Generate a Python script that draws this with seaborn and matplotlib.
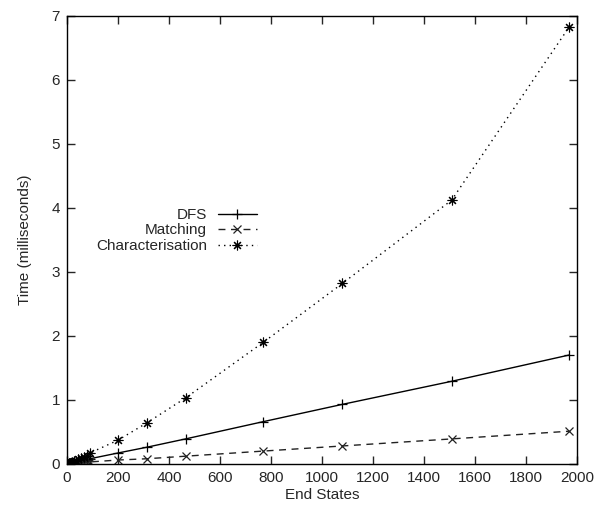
import pandas as pd
import matplotlib
matplotlib.use("Agg")
import matplotlib.pyplot as plt
import seaborn as sns

# data
end_states = [1, 3, 6, 10, 15, 20, 28, 36, 45, 55, 66, 78, 90,
              200, 313, 465, 770, 1080, 1508, 1968]
dfs = [0.0, 0.0, 0.01, 0.01, 0.01, 0.02, 0.02, 0.03, 0.03, 0.04, 0.05, 0.06, 0.08,
       0.17, 0.26, 0.39, 0.66, 0.93, 1.29, 1.70]
matching = [0.0, 0.0, 0.0, 0.0, 0.0, 0.01, 0.01, 0.01, 0.01, 0.01, 0.02, 0.02, 0.03,
            0.06, 0.08, 0.12, 0.20, 0.28, 0.39, 0.51]
characterisation = [0.0, 0.0, 0.01, 0.01, 0.02, 0.03, 0.04, 0.05, 0.07, 0.09, 0.11, 0.13, 0.17,
                    0.37, 0.64, 1.03, 1.90, 2.82, 4.12, 6.82]

df = pd.DataFrame({"End States": end_states, "DFS": dfs, "Matching": matching,
                   "Characterisation": characterisation})

sns.set_style("ticks")
plt.rcParams["font.family"] = ["Liberation Sans", "DejaVu Sans"]

fig = plt.figure(figsize=(5.98, 5.12), dpi=100)
ax = fig.add_axes([0.112, 0.094, 0.853, 0.875])

sns.lineplot(data=df, x="End States", y="DFS", ax=ax, color="black", lw=1,
             marker="+", ms=7, mew=0.9, mec="black", label="DFS")
sns.lineplot(data=df, x="End States", y="Matching", ax=ax, color="#222222", lw=1,
             linestyle=(0, (5, 4)), marker="x", ms=5.5, mew=0.9, mec="#222222", label="Matching")
sns.lineplot(data=df, x="End States", y="Characterisation", ax=ax, color="black", lw=1,
             linestyle=(0, (1, 3)), marker=(8, 2, 0), ms=7, mew=0.8, mec="black",
             label="Characterisation")

ax.set_xlim(0, 2000)
ax.set_ylim(0, 7)
ax.set_xticks(range(0, 2001, 200))
ax.set_yticks(range(0, 8))
ax.set_xlabel("End States", fontsize=11, labelpad=2)
ax.set_ylabel("Time (milliseconds)", fontsize=11, labelpad=14)
ax.tick_params(direction="in", length=6, width=1, top=True, right=True,
               labelsize=11, pad=5)
for s in ax.spines.values():
    s.set_linewidth(1)
    s.set_color("black")

ax.legend(loc="upper right", bbox_to_anchor=(0.385, 0.585), frameon=False,
          markerfirst=False, fontsize=11, handlelength=2.6, handletextpad=0.7,
          labelspacing=0.1, borderaxespad=0)
for t in ax.get_legend().get_texts():
    t.set_ha("right")
ax.get_legend()._legend_box.align = "right"

fig.savefig("out.png", dpi=100)
